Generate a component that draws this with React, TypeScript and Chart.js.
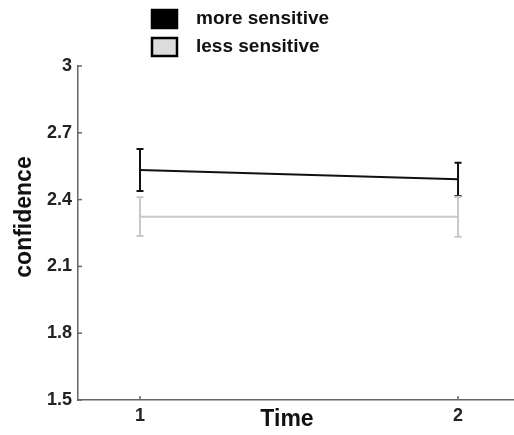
import React, { useEffect, useRef } from "react";
import { Chart, registerables } from "chart.js";

Chart.register(...registerables);

const times = [1, 2];
const moreSensitive = [2.533, 2.491];
const moreSensitiveErr = [0.094, 0.075];
const lessSensitive = [2.323, 2.323];
const lessSensitiveErr = [0.087, 0.09];
const yTicks = [1.5, 1.8, 2.1, 2.4, 2.7, 3];
const xTicks = [1, 2];
const seriesNames = ["more sensitive", "less sensitive"];

const FONT = "'Liberation Sans', Arial, sans-serif";

const errorBarPlugin = {
  id: "errorBars",
  afterDatasetDraw(chart: any, args: any) {
    const ds = chart.data.datasets[args.index];
    const errs: number[] = ds.errors;
    if (!errs) return;
    const { ctx } = chart;
    const xs = chart.scales.x;
    const ys = chart.scales.y;
    ctx.save();
    ctx.strokeStyle = ds.borderColor;
    ctx.lineWidth = 2;
    ds.data.forEach((p: any, i: number) => {
      const x = xs.getPixelForValue(p.x);
      const yt = ys.getPixelForValue(p.y + errs[i]);
      const yb = ys.getPixelForValue(p.y - errs[i]);
      ctx.beginPath();
      ctx.moveTo(x, yt);
      ctx.lineTo(x, yb);
      ctx.moveTo(x - 3.5, yt);
      ctx.lineTo(x + 3.5, yt);
      ctx.moveTo(x - 3.5, yb);
      ctx.lineTo(x + 3.5, yb);
      ctx.stroke();
    });
    ctx.restore();
  },
};

const decorPlugin = {
  id: "decor",
  afterDraw(chart: any) {
    const { ctx, chartArea } = chart;
    const xs = chart.scales.x;
    const ys = chart.scales.y;
    ctx.save();
    // inward ticks
    ctx.strokeStyle = "#666";
    ctx.lineWidth = 1.5;
    ys.ticks.forEach((t: any) => {
      const y = ys.getPixelForValue(t.value);
      ctx.beginPath();
      ctx.moveTo(chartArea.left, y);
      ctx.lineTo(chartArea.left + 4, y);
      ctx.stroke();
    });
    xs.ticks.forEach((t: any) => {
      const x = xs.getPixelForValue(t.value);
      ctx.beginPath();
      ctx.moveTo(x, chartArea.bottom);
      ctx.lineTo(x, chartArea.bottom - 4);
      ctx.stroke();
    });
    // axis titles
    ctx.fillStyle = "#111";
    ctx.font = `bold 23px ${FONT}`;
    ctx.textAlign = "center";
    ctx.textBaseline = "middle";
    ctx.fillText("Time", 287, 420);
    ctx.save();
    ctx.translate(25, 217);
    ctx.rotate(-Math.PI / 2);
    ctx.fillText("confidence", 0, 0);
    ctx.restore();
    // legend
    const fills = ["#000", "#dcdcdc"];
    const rows = [10, 38];
    rows.forEach((top, i) => {
      ctx.fillStyle = fills[i];
      ctx.fillRect(152, top, 25, 18);
      ctx.strokeStyle = "#000";
      ctx.lineWidth = 2.5;
      ctx.strokeRect(152, top, 25, 18);
      ctx.fillStyle = "#111";
      ctx.font = `bold 19px ${FONT}`;
      ctx.textAlign = "left";
      ctx.textBaseline = "middle";
      ctx.fillText(seriesNames[i], 196, top + 9);
    });
    ctx.restore();
  },
};

export default function App() {
  const ref = useRef<HTMLCanvasElement>(null);
  useEffect(() => {
    if (!ref.current) return;
    const chart = new Chart(ref.current, {
      type: "line",
      data: {
        datasets: [
          {
            label: seriesNames[1],
            data: times.map((t, i) => ({ x: t, y: lessSensitive[i] })),
            borderColor: "#c8c8c8",
            borderWidth: 2,
            pointRadius: 0,
            errors: lessSensitiveErr,
          } as any,
          {
            label: seriesNames[0],
            data: times.map((t, i) => ({ x: t, y: moreSensitive[i] })),
            borderColor: "#111",
            borderWidth: 2,
            pointRadius: 0,
            errors: moreSensitiveErr,
          } as any,
        ],
      },
      options: {
        animation: false,
        responsive: false,
        layout: { padding: { top: 66, left: 0, right: 0, bottom: 0 } },
        plugins: { legend: { display: false }, tooltip: { enabled: false } },
        scales: {
          x: {
            type: "linear",
            min: 0.805,
            max: 2.176,
            afterBuildTicks: (s: any) => {
              s.ticks = xTicks.map((v) => ({ value: v }));
            },
            afterFit: (s: any) => {
              s.height = 35;
            },
            grid: { display: false, drawTicks: false },
            border: { display: true, color: "#666", width: 1.5 },
            ticks: {
              padding: 5,
              color: "#222",
              font: { family: FONT, size: 18, weight: "bold" },
              callback: (v: any) => String(v),
            },
          },
          y: {
            type: "linear",
            min: 1.5,
            max: 3,
            afterBuildTicks: (s: any) => {
              s.ticks = yTicks.map((v) => ({ value: v }));
            },
            afterFit: (s: any) => {
              s.width = 78;
            },
            grid: { display: false, drawTicks: false },
            border: { display: true, color: "#666", width: 1.5 },
            ticks: {
              padding: 6,
              color: "#222",
              font: { family: FONT, size: 18, weight: "bold" },
              callback: (v: any) => String(parseFloat(Number(v).toFixed(1))),
            },
          },
        },
      } as any,
      plugins: [errorBarPlugin, decorPlugin],
    });
    return () => chart.destroy();
  }, []);
  return (
    <div style={{ position: "absolute", left: 0, top: 0, width: 514, height: 435, background: "#fff" }}>
      <canvas ref={ref} width={514} height={435} style={{ width: 514, height: 435 }} />
    </div>
  );
}
